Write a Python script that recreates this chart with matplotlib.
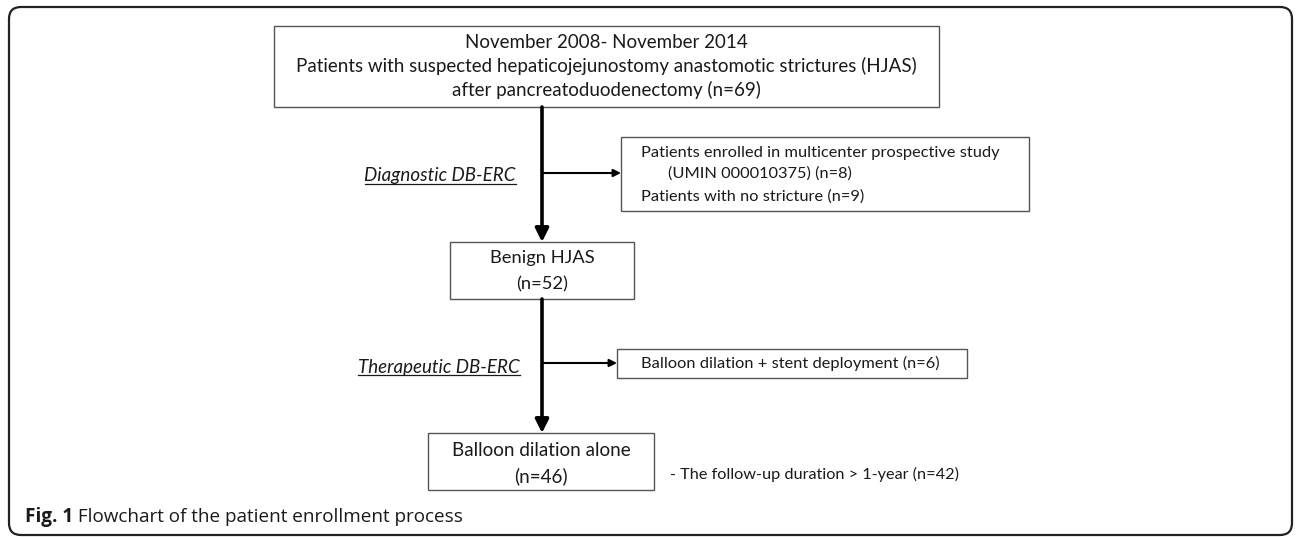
import matplotlib
matplotlib.use('Agg')
import matplotlib.pyplot as plt
from matplotlib.patches import Rectangle, FancyBboxPatch

# counts
n_total = 69
n_enrolled = 8
n_no_stricture = 9
n_benign = 52
n_stent = 6
n_balloon = 46
n_followup = 42

top_lines = ['November 2008- November 2014',
             'Patients with suspected hepaticojejunostomy anastomotic strictures (HJAS)',
             'after pancreatoduodenectomy (n={})'.format(n_total)]
excluded_lines = ['Patients enrolled in multicenter prospective study',
                  '(UMIN 000010375) (n={})'.format(n_enrolled),
                  'Patients with no stricture (n={})'.format(n_no_stricture)]
benign_lines = ['Benign HJAS', '(n={})'.format(n_benign)]
stent_line = 'Balloon dilation + stent deployment (n={})'.format(n_stent)
balloon_lines = ['Balloon dilation alone', '(n={})'.format(n_balloon)]
followup_line = '- The follow-up duration > 1-year (n={})'.format(n_followup)
step_labels = ['Diagnostic DB-ERC', 'Therapeutic DB-ERC']
caption_bold = 'Fig. 1'
caption_text = ' Flowchart of the patient enrollment process'

box_font = 'Lato'
cap_font = 'Open Sans'
txt = '#1a1a1a'
edge = '#555555'

fig = plt.figure(figsize=(12.96, 5.37), dpi=100)
ax = fig.add_axes([0, 0, 1, 1])
ax.set_xlim(0, 1296)
ax.set_ylim(537, 0)
ax.axis('off')

# outer rounded frame
frame = FancyBboxPatch((9, 7), 1283, 528, boxstyle='round,pad=0,rounding_size=12',
                       fill=False, lw=1.6, ec='#222222')
ax.add_patch(frame)


def box(x0, y0, x1, y1):
    ax.add_patch(Rectangle((x0, y0), x1 - x0, y1 - y0, fill=False, lw=1.0, ec=edge))


# boxes
box(274, 26, 939, 107)
box(621, 137, 1029, 211)
box(450, 242, 634, 299)
box(617, 349, 967, 378)
box(428, 433, 654, 490)

# box texts
for line, y in zip(top_lines, [42, 66, 90]):
    ax.text(606.5, y, line, ha='center', va='center', fontsize=13.5, family=box_font, color=txt)
for line, x, y in zip(excluded_lines, [641, 668, 641], [153, 174, 197]):
    ax.text(x, y, line, ha='left', va='center', fontsize=11.8, family=box_font, color=txt)
for line, y in zip(benign_lines, [258, 284]):
    ax.text(542, y, line, ha='center', va='center', fontsize=13.2, family=box_font, color=txt)
ax.text(641, 363, stent_line, ha='left', va='center', fontsize=11.8, family=box_font, color=txt)
for line, y in zip(balloon_lines, [450, 476]):
    ax.text(541, y, line, ha='center', va='center', fontsize=13.6, family=box_font, color=txt)
ax.text(670, 474, followup_line, ha='left', va='center', fontsize=11.7, family=box_font, color=txt)

# arrows
down = dict(arrowstyle='-|>', lw=2.6, color='black', mutation_scale=20, shrinkA=0, shrinkB=0)
side = dict(arrowstyle='-|>', lw=1.5, color='black', mutation_scale=11, shrinkA=0, shrinkB=0)
ax.annotate('', xy=(542, 242), xytext=(542, 107), arrowprops=down)
ax.annotate('', xy=(542, 433), xytext=(542, 299), arrowprops=down)
ax.annotate('', xy=(621, 173), xytext=(542, 173), arrowprops=side)
ax.annotate('', xy=(617, 363), xytext=(542, 363), arrowprops=side)

# italic underlined step labels
labels = []
for lab, x, y in zip(step_labels, [516, 520], [176, 367]):
    labels.append(ax.text(x, y, lab, ha='right', va='center', fontsize=13.5, style='italic',
                          family=box_font, color=txt))

# caption
cap1 = ax.text(25, 517, caption_bold, ha='left', va='center', fontsize=13.6, weight='bold',
               family=cap_font, color=txt)
fig.canvas.draw()
r = fig.canvas.get_renderer()
inv = ax.transData.inverted()
for t in labels:
    bb = t.get_window_extent(r)
    (xa, ya), (xb, yb) = inv.transform([(bb.x0, bb.y0), (bb.x1, bb.y1)])
    ax.plot([xa, xb], [ya - 1, ya - 1], color=txt, lw=0.9)
bb = cap1.get_window_extent(r)
xe = inv.transform((bb.x1, bb.y0))[0]
ax.text(xe, 517, caption_text, ha='left', va='center', fontsize=13.6,
        family=cap_font, color=txt)

fig.savefig('out.png', dpi=100)
